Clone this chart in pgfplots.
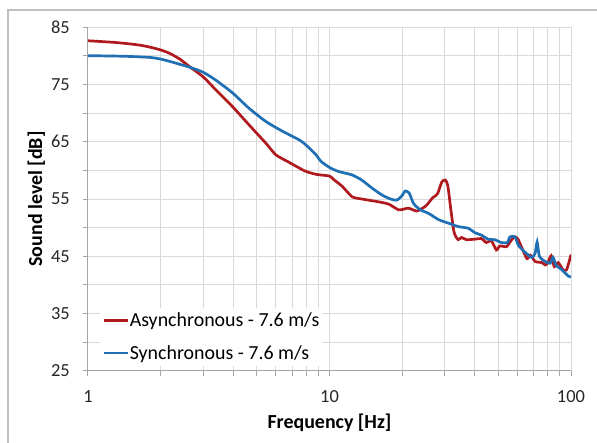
\documentclass[border=0pt]{standalone}
\usepackage{pgfplots}
\pgfplotsset{compat=1.18}
\usepackage{fontspec}
\setmainfont{Carlito}
\definecolor{asyn}{HTML}{B0191E}
\definecolor{syn}{HTML}{1F6FB5}
\definecolor{gridc}{HTML}{D9D9D9}
\definecolor{axc}{HTML}{A6A6A6}
\definecolor{framec}{HTML}{BFBFBF}

\begin{document}
\begin{tikzpicture}
\path[use as bounding box] (0bp,0bp) rectangle (597bp,443bp);
\draw[framec, line width=1.5bp] (8bp,0bp) -- (8bp,433bp) -- (597bp,433bp);
\begin{axis}[
  at={(88bp,72bp)}, anchor=south west,
  width=483bp, height=344bp, scale only axis,
  xmode=log, xmin=1, xmax=100, ymin=25, ymax=85,
  xtick={1,10,100}, xticklabels={1,10,100},
  ytick={25,35,...,85}, minor ytick={30,40,...,80},
  grid=both,
  major grid style={gridc, line width=1bp},
  minor grid style={gridc, line width=1bp},
  axis lines=left,
  axis line style={axc, line width=1bp, -},
  tick style={axc, line width=1bp},
  tick align=outside,
  major tick length=5bp, minor tick length=5bp,
  ticklabel style={font=\fontsize{18.5}{20}\selectfont, text=black!85,
    /pgf/number format/assume math mode=true},
  yticklabel style={anchor=east, inner sep=0pt, xshift=-13bp},
  xticklabel style={anchor=north, inner sep=0pt, yshift=-14bp},
  xlabel={Frequency [Hz]},
  ylabel={Sound level [dB]},
  xlabel style={at={(axis description cs:0.5,-0.151)}, anchor=center,
    font=\bfseries\fontsize{20}{24}\selectfont},
  ylabel style={at={(axis description cs:-0.107,0.5)}, anchor=center,
    font=\bfseries\fontsize{20}{24}\selectfont},
  legend image code/.code={\draw[#1, line width=2.5bp] (0bp,0bp) -- (24bp,0bp);},
  legend cell align=left,
  legend style={at={(axis description cs:0.025,0.184)}, anchor=north west,
    draw=none, fill=white, inner xsep=2bp, inner ysep=2bp,
    font=\fontsize{20}{24}\selectfont, row sep=11bp,
    nodes={inner xsep=1bp, inner ysep=3bp}},
]
\addplot[asyn, line width=2.7bp, smooth, tension=0.4] coordinates {
(1,82.6) (1.3,82.3) (1.6,81.9) (1.8,81.5) (2,81.0) (2.18,80.4) (2.4,79.4)
(2.63,78.1) (3,76.3) (3.39,74.0) (3.97,71.1) (4.65,67.9) (5.46,64.7)
(6.0,62.7) (6.8,61.4) (7.9,59.9) (8.8,59.3) (10,59.0) (10.4,58.4)
(11.3,57.2) (12.4,55.4) (13.6,55.0) (16,54.5) (17.6,54.1) (19.4,53.1)
(21.2,53.4) (23,52.9) (24.9,53.7) (25.7,54.3) (26.7,55.2) (28.0,55.9)
(29.2,58.0) (30.2,58.3) (30.9,57.3) (31.8,53.2) (32.8,49.2) (34.1,47.9)
(35.2,48.3) (36.9,47.9) (40.1,48.0) (42.6,48.1) (44.6,47.4) (46.8,47.7)
(49.1,46.1) (50.7,46.8) (54.1,46.7) (56.8,47.9) (58.6,48.4) (60.3,48.0)
(62.6,46.5) (65.7,44.6) (67.9,45.2) (71.1,44.1) (75.8,43.9) (78.2,43.5)
(80,43.8) (82.8,45.1) (85.3,43.2) (88.5,43.9) (92.9,42.6) (96,42.7)
(100,45.3)
};
\addlegendentry{Asynchronous - 7.6 m/s}
\addplot[syn, line width=2.7bp, smooth, tension=0.4] coordinates {
(1,80.0) (1.4,79.9) (1.8,79.7) (2,79.4) (2.18,79.0) (2.63,78.0) (3,77.1)
(3.39,75.7) (3.97,73.5) (4.65,70.8) (5.46,68.5) (6.4,66.8) (7.5,65.3)
(8,64.4) (8.8,62.7) (9.2,61.6) (10,60.5) (10.9,59.8) (12.4,59.2)
(13.6,58.3) (15,56.9) (16.5,55.7) (17.9,55.0) (19.0,54.8) (19.9,55.5)
(20.6,56.4) (21.4,56.0) (22.3,54.2) (23.8,53.1) (25.7,52.5) (28.3,51.4)
(31,50.8) (34.1,50.2) (37.5,49.9) (40.1,49.1) (42.6,48.7) (45.3,48.0)
(48.3,47.9) (51.5,47.4) (54.5,47.4) (55.9,48.4) (58.6,48.4) (60.6,46.9)
(64.6,45.7) (68.9,44.8) (71.1,45.6) (72.4,47.5) (74,45.0) (78.2,44.1)
(82,43.8) (84.3,44.8) (86.8,43.4) (90.9,42.8) (97.2,41.6) (100,41.4)
};
\addlegendentry{Synchronous - 7.6 m/s}
\end{axis}
\end{tikzpicture}
\end{document}
